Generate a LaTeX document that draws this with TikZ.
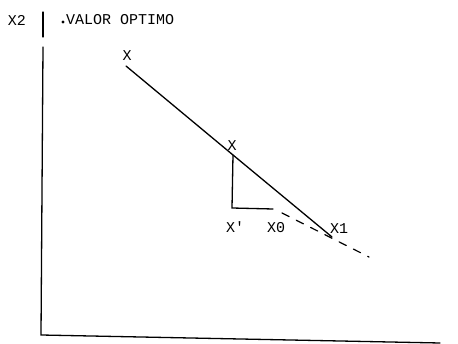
\documentclass[tikz,border=0pt]{standalone}
\usepackage{fontspec}
\setmonofont{Liberation Mono}
\begin{document}
\begin{tikzpicture}[x=1pt,y=-1pt,
  lbl/.style={font=\ttfamily\fontsize{15}{15}\selectfont,inner sep=0pt},
  ln/.style={line width=1.3pt,line cap=round}]
\useasboundingbox (0,0) rectangle (458,344);
% axes
\coordinate (top) at (43,12);
\coordinate (gapA) at (43,37);
\coordinate (gapB) at (43,47);
\coordinate (orig) at (41,335);
\coordinate (xend) at (440,343);
\draw[ln] (top) -- (gapA);
\draw[ln] (gapB) -- (orig) -- (xend);
% labels
\node[lbl] (x2) at (17,20) {X2};
\fill (63,22) circle (1.6);
\node[lbl,anchor=west] (vo) at (66,20) {VALOR OPTIMO};
\node[lbl] (xa) at (127,56) {X};
\node[lbl] (xb) at (232,146) {X};
\node[lbl] (xp) at (235,227) {X'};
\node[lbl] (x0) at (276,228) {X0};
\node[lbl] (x1) at (339,229) {X1};
% main line
\coordinate (s) at (126,66);
\coordinate (m) at (233,155);
\coordinate (e) at (332,237);
\draw[ln] (s) -- (m) -- (e);
% corner
\coordinate (c) at (232,208);
\coordinate (h) at (273,209);
\draw[ln] (m) -- (c) -- (h);
% dashed
\coordinate (d0) at (282,213);
\coordinate (d1) at (369,257);
\draw[ln,line width=1.2pt,dash pattern=on 8pt off 8pt] (d0) -- (d1);
\end{tikzpicture}
\end{document}
